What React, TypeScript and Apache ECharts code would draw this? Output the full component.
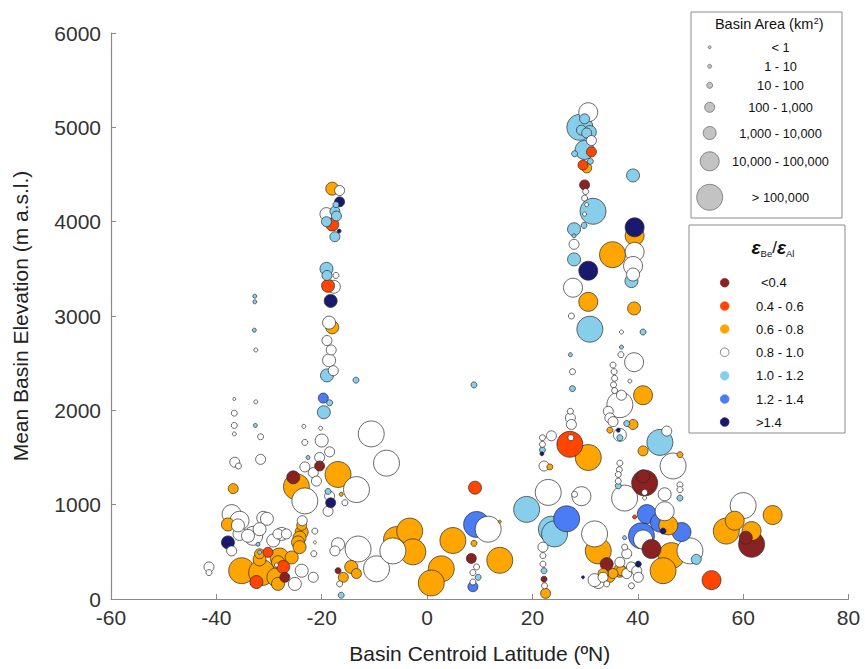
import React, { useEffect, useRef } from "react";
import * as echarts from "echarts";

// [latitude (°N), mean elevation (m), area class 1..7]
const ratioLt04: number[][] = [
  [-25.4, 1290, 5], [-20.4, 1410, 4], [-16.9, 300, 3], [-27.0, 230, 4], [8.4, 430, 4],
  [29.9, 4390, 4], [34.1, 370, 5], [22.2, 210, 3], [41.3, 1230, 7], [41.0, 1300, 5],
  [42.6, 530, 6], [61.6, 580, 7], [60.5, 650, 5],
];
const ratio0406: number[][] = [
  [-18.0, 3970, 5], [-18.8, 3320, 5], [-27.3, 340, 5], [-30.2, 495, 4], [-32.4, 180, 5],
  [9.1, 1180, 5], [31.2, 4740, 4], [29.6, 4600, 4], [27.1, 1640, 7], [39.4, 870, 2],
  [54.0, 200, 6],
];
const ratio0608: number[][] = [
  [-18.0, 4350, 5], [-18.0, 2880, 5], [-36.8, 1170, 4], [-37.8, 790, 5], [-35.2, 300, 7],
  [-31.4, 280, 7], [-31.8, 420, 5], [-28.0, 440, 6], [-28.6, 230, 6], [-28.3, 160, 5],
  [-25.7, 440, 5], [-24.8, 1190, 7], [-23.8, 780, 4], [-23.8, 710, 5], [-24.2, 650, 5],
  [-24.5, 600, 5], [-24.2, 550, 5], [-31.8, 480, 4], [-28.3, 390, 5], [-16.9, 1320, 7],
  [-16.3, 1110, 2], [-15.9, 230, 4], [-14.4, 340, 5], [-13.4, 270, 4], [-5.8, 630, 7],
  [-3.3, 720, 7], [-2.7, 500, 7], [2.7, 320, 7], [0.8, 170, 7], [4.9, 620, 7],
  [8.9, 590, 3], [13.8, 410, 7], [13.8, 820, 1], [30.6, 1500, 7], [23.3, 1400, 3],
  [22.5, 60, 4], [32.5, 510, 7], [34.7, 230, 4], [36.6, 300, 5], [30.3, 4570, 4],
  [30.6, 3150, 6], [39.4, 3850, 6], [35.2, 3650, 7], [39.3, 3080, 5], [41.0, 2160, 6],
  [34.7, 1790, 3], [39.1, 1850, 4], [41.0, 1570, 4], [48.0, 1530, 3], [45.8, 780, 6],
  [46.4, 460, 7], [44.8, 300, 7], [36.9, 300, 4], [35.3, 270, 4], [33.4, 270, 4],
  [58.4, 830, 6], [56.8, 720, 7], [61.6, 720, 6], [65.6, 890, 6],
];
const ratio0810: number[][] = [
  [-36.6, 2120, 1], [-32.5, 2090, 2], [-36.6, 1970, 3], [-36.6, 1840, 3], [-36.6, 1750, 2],
  [-31.6, 1720, 3], [-36.5, 1450, 4], [-35.8, 1410, 3], [-31.6, 1480, 4], [-32.5, 2640, 2],
  [-37.1, 900, 6], [-35.6, 830, 6], [-31.1, 860, 5], [-30.4, 850, 5], [-33.0, 670, 6],
  [-35.6, 690, 5], [-29.2, 620, 5], [-27.6, 690, 5], [-37.1, 510, 4], [-41.4, 340, 4],
  [-41.4, 280, 3], [-31.8, 740, 5], [-35.9, 780, 5], [-34.0, 670, 5], [-28.3, 690, 4],
  [-26.7, 690, 4], [-28.6, 360, 2], [-23.8, 300, 5], [-21.6, 230, 4], [-25.1, 160, 5],
  [-21.3, 720, 3], [-21.3, 600, 1], [-21.5, 480, 3], [-23.7, 830, 4], [-23.2, 1660, 3],
  [-20.0, 1680, 5], [-18.5, 1560, 4], [-21.6, 1340, 4], [-21.0, 1250, 4], [-23.2, 1040, 7],
  [-23.4, 1830, 2], [-20.2, 1810, 2], [-10.6, 1750, 7], [-7.7, 1440, 7], [-20.4, 1500, 4],
  [-23.2, 1400, 4], [-13.4, 1160, 7], [-18.5, 1090, 4], [-18.8, 930, 4], [-15.6, 1020, 3],
  [-16.9, 580, 5], [-17.5, 510, 4], [-13.1, 530, 7], [-16.6, 160, 3], [-9.6, 320, 7],
  [-6.5, 510, 7], [-16.6, 4330, 4], [-19.1, 4080, 5], [-17.3, 3430, 3], [-17.7, 3310, 5],
  [-18.6, 2930, 5], [-19.0, 2740, 4], [-18.2, 2640, 4], [-18.6, 2530, 5], [-17.8, 2420, 4],
  [11.6, 740, 7], [9.4, 340, 3], [8.7, 280, 3], [8.7, 180, 3], [23.0, 1130, 7],
  [21.9, 1710, 3], [21.9, 1640, 3], [22.2, 1410, 4], [23.6, 1730, 4], [27.2, 1990, 3],
  [27.2, 1920, 4], [27.4, 1850, 4], [27.3, 1710, 3], [29.3, 1090, 6], [28.0, 1110, 3],
  [31.8, 690, 7], [33.4, 230, 4], [32.5, 180, 5], [37.9, 270, 4], [22.0, 550, 4],
  [22.0, 460, 3], [22.0, 370, 3], [22.3, 140, 3], [30.6, 5160, 6], [31.2, 4860, 4],
  [30.1, 4320, 3], [29.9, 4250, 3], [30.3, 4180, 2], [29.9, 4080, 2], [27.9, 3760, 4],
  [27.7, 3300, 6], [27.4, 3000, 3], [27.6, 2410, 3], [39.4, 3680, 6], [39.1, 3530, 6],
  [39.1, 3440, 5], [36.9, 2830, 2], [36.8, 2590, 3], [39.3, 2510, 6], [35.3, 2480, 3],
  [35.5, 2410, 3], [35.6, 2340, 3], [35.4, 2270, 3], [35.6, 2210, 3], [38.5, 2310, 2],
  [36.6, 2060, 7], [36.9, 2160, 4], [34.4, 1990, 4], [34.7, 1920, 4], [35.3, 1880, 4],
  [36.6, 1740, 5], [36.6, 1440, 3], [36.5, 1370, 3], [36.3, 1320, 3], [36.3, 1250, 3],
  [41.3, 1130, 3], [41.3, 1070, 2], [37.5, 1070, 7], [45.5, 1780, 4], [46.7, 1410, 7],
  [48.0, 1210, 3], [48.0, 1160, 3], [45.1, 1110, 5], [45.1, 930, 6], [41.0, 630, 6],
  [37.5, 550, 3], [37.9, 480, 4], [36.6, 390, 4], [38.8, 340, 4], [39.8, 300, 4],
  [40.1, 230, 4], [31.8, 200, 5], [34.1, 160, 3], [38.8, 140, 3], [49.9, 510, 7],
  [60.0, 990, 7],
];
const ratio1012: number[][] = [
  [-32.7, 3210, 2], [-32.7, 3150, 2], [-32.8, 2850, 2], [-32.6, 1840, 2], [-31.8, 495, 2],
  [-32.1, 580, 2], [-17.3, 4180, 3], [-17.5, 4110, 4], [-17.2, 4060, 4], [-19.1, 4000, 4],
  [-17.5, 3840, 4], [-19.1, 3500, 5], [-19.0, 3430, 4], [-19.0, 2370, 5], [-13.5, 2320, 3],
  [-18.5, 2080, 3], [-19.6, 1980, 5], [-22.6, 1500, 2], [-18.8, 1140, 3], [-16.3, 40, 3],
  [8.9, 2270, 3], [9.7, 230, 3], [18.9, 950, 7], [23.6, 740, 7], [24.2, 690, 7],
  [21.9, 1580, 3], [22.2, 300, 3], [27.6, 2230, 3], [27.2, 2590, 2], [29.9, 5090, 4],
  [29.0, 5000, 7], [30.9, 4950, 5], [29.3, 4970, 4], [30.3, 4940, 4], [28.0, 4720, 3],
  [29.9, 4760, 6], [31.0, 4640, 3], [31.5, 4110, 7], [27.9, 3920, 5], [29.8, 3960, 3],
  [27.9, 3850, 2], [27.9, 3600, 5], [30.9, 2860, 7], [39.1, 4490, 5], [38.8, 3370, 5],
  [41.0, 2830, 3], [36.9, 2670, 2], [37.9, 1860, 3], [36.6, 1710, 3], [44.2, 1660, 7],
  [36.3, 1200, 3], [48.0, 1070, 3], [51.1, 420, 4], [37.5, 650, 2],
];
const ratio1214: number[][] = [
  [-19.7, 2130, 4], [9.4, 790, 7], [8.7, 130, 4], [26.5, 850, 7], [41.7, 900, 6],
  [40.7, 670, 7], [44.2, 810, 6], [48.3, 710, 6],
];
const ratioGt14: number[][] = [
  [-16.6, 4210, 4], [-16.7, 3900, 2], [-18.3, 3160, 5], [-18.3, 1020, 4], [-37.8, 600, 5],
  [21.8, 1540, 2], [30.6, 3480, 6], [39.4, 3940, 6], [36.3, 1790, 2], [44.8, 720, 3],
  [40.1, 370, 3], [29.6, 230, 1],
];

const ratioLabels = ["<0.4", "0.4 - 0.6", "0.6 - 0.8", "0.8 - 1.0", "1.0 - 1.2", "1.2 - 1.4", ">1.4"];
const areaLabels = ["< 1", "1 - 10", "10 - 100", "100 - 1,000", "1,000 - 10,000", "10,000 - 100,000", "> 100,000"];
const xTicks = [-60, -40, -20, 0, 20, 40, 60, 80];
const yTicks = [0, 1000, 2000, 3000, 4000, 5000, 6000];

const COLORS = ["#8B2222", "#FF4500", "#FFA500", "#FFFFFF", "#87CEEB", "#4A7CF5", "#191970"];
const SIZES = [3, 4, 6, 10, 13, 19, 26];
const FONT = "'Liberation Sans', Arial, sans-serif";

export default function App() {
  const ref = useRef<HTMLDivElement>(null);
  useEffect(() => {
    document.body.style.margin = "0";
    if (!ref.current) return;
    const chart = echarts.init(ref.current, undefined, { renderer: "svg" });

    const groups = [ratioLt04, ratio0406, ratio0608, ratio0810, ratio1012, ratio1214, ratioGt14];
    const drawOrder = [4, 5, 2, 3, 1, 0, 6];
    const items: any[] = [];
    drawOrder.forEach((gi) => {
      groups[gi].forEach((p) => {
        items.push({
          value: [p[0], p[1]],
          symbolSize: SIZES[p[2] - 1],
          itemStyle: { color: COLORS[gi] },
          _s: p[2],
        });
      });
    });
    const sorted = items
      .map((d, i) => ({ d, i }))
      .sort((a, b) => b.d._s - a.d._s || a.i - b.i)
      .map((o) => ({ value: o.d.value, symbolSize: o.d.symbolSize, itemStyle: o.d.itemStyle }));

    const graphic: any[] = [];
    // Area legend box
    graphic.push({ type: "rect", shape: { x: 691, y: 12, width: 151, height: 206 }, style: { fill: "#fff", stroke: "#8c8c8c", lineWidth: 1 } });
    graphic.push({
      type: "text", x: 769, y: 24,
      style: {
        text: "Basin Area (km{sup|2})", fontFamily: FONT, fontSize: 14.5, fill: "#111",
        align: "center", verticalAlign: "middle",
        rich: { sup: { fontSize: 9, fontFamily: FONT, fill: "#111", padding: [0, 0, 7, 0] } },
      },
    });
    const areaY = [47.3, 66.3, 85.3, 107.3, 133, 161.3, 197.3];
    areaLabels.forEach((lab, i) => {
      graphic.push({ type: "circle", shape: { cx: 709.7, cy: areaY[i], r: SIZES[i] / 2 }, style: { fill: "#c3c3c3", stroke: "#6e6e6e", lineWidth: 0.8 } });
      graphic.push({ type: "text", x: 780.5, y: areaY[i], style: { text: lab, fontFamily: FONT, fontSize: 12.8, fill: "#111", align: "center", verticalAlign: "middle" } });
    });
    // Ratio legend box
    graphic.push({ type: "rect", shape: { x: 689, y: 225, width: 156, height: 208 }, style: { fill: "#fff", stroke: "#8c8c8c", lineWidth: 1 } });
    graphic.push({
      type: "text", x: 773, y: 247,
      style: {
        text: "{e|ε}{s|Be}{n|/}{e|ε}{s|Al}", fontFamily: FONT, align: "center", verticalAlign: "middle", fill: "#111",
        rich: {
          e: { fontSize: 19, fontStyle: "italic", fontWeight: "bold", fontFamily: FONT, fill: "#111", lineHeight: 24 },
          n: { fontSize: 17, fontFamily: FONT, fill: "#111", lineHeight: 24 },
          s: { fontSize: 9.5, fontFamily: FONT, fill: "#111", lineHeight: 24, padding: [12, 0, 0, 0] },
        },
      },
    });
    const ratioY = [282.7, 306, 329, 352.3, 375.7, 399, 422];
    ratioLabels.forEach((lab, i) => {
      graphic.push({ type: "circle", shape: { cx: 724.7, cy: ratioY[i], r: 4.3 }, style: { fill: COLORS[i], stroke: i === 3 ? "#666" : COLORS[i], lineWidth: 0.8 } });
      graphic.push({ type: "text", x: i === 0 ? 761 : 756, y: ratioY[i], style: { text: lab, fontFamily: FONT, fontSize: 13, fill: "#111", align: "left", verticalAlign: "middle" } });
    });

    chart.setOption({
      animation: false,
      backgroundColor: "#fff",
      grid: { left: 111, right: 16.5, top: 33, bottom: 67, containLabel: false },
      xAxis: {
        type: "value", min: xTicks[0], max: xTicks[xTicks.length - 1], interval: 20,
        name: "Basin Centroid Latitude (ºN)", nameLocation: "middle", nameGap: 44,
        nameTextStyle: { fontFamily: FONT, fontSize: 21, color: "#222" },
        axisLine: { show: true, onZero: false, lineStyle: { color: "#8a8a8a", width: 1.2 } },
        axisTick: { show: true, inside: true, length: 5, lineStyle: { color: "#8a8a8a" } },
        axisLabel: { fontFamily: FONT, fontSize: 21, color: "#333", margin: 8, formatter: (v: number) => String(v) },
        splitLine: { show: false },
      },
      yAxis: {
        type: "value", min: yTicks[0], max: yTicks[yTicks.length - 1], interval: 1000,
        name: "Mean Basin Elevation (m a.s.l.)", nameLocation: "middle", nameGap: 80,
        nameTextStyle: { fontFamily: FONT, fontSize: 21, color: "#222" },
        axisLine: { show: true, onZero: false, lineStyle: { color: "#8a8a8a", width: 1.2 } },
        axisTick: { show: true, inside: true, length: 5, lineStyle: { color: "#8a8a8a" } },
        axisLabel: { fontFamily: FONT, fontSize: 21, color: "#333", margin: 10, formatter: (v: number) => String(v) },
        splitLine: { show: false },
      },
      series: [
        {
          type: "scatter",
          data: sorted,
          itemStyle: { borderColor: "#2a2a2a", borderWidth: 0.7, opacity: 1 },
          emphasis: { disabled: true },
        },
      ],
      graphic,
    });
    return () => chart.dispose();
  }, []);
  return <div ref={ref} style={{ width: 865, height: 669 }} />;
}
